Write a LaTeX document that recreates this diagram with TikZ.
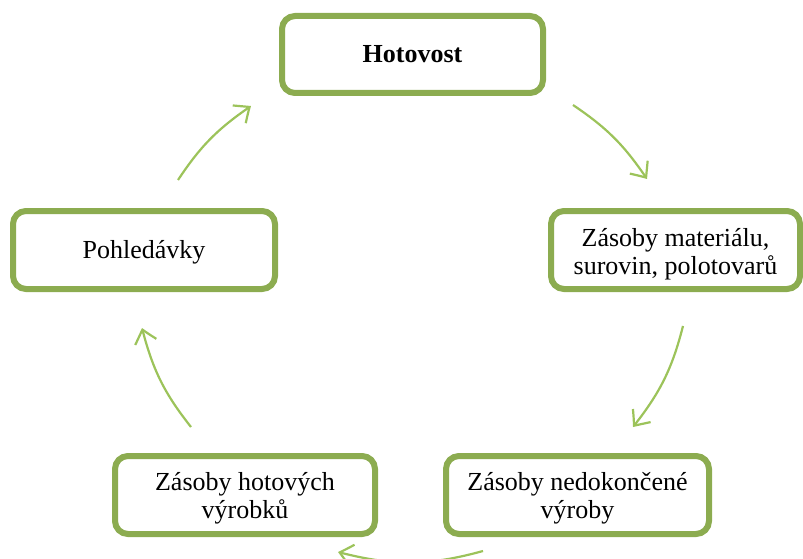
\documentclass[tikz,border=0pt]{standalone}
\usepackage{fontspec}
\setmainfont{Liberation Serif}
\usetikzlibrary{arrows.meta,bending}
\definecolor{boxgreen}{RGB}{140,172,80}
\definecolor{arrowgreen}{RGB}{156,195,90}
\tikzset{
  stage/.style={draw=boxgreen, line width=6pt, rounded corners=13pt, fill=white,
    inner sep=0pt, minimum height=78pt, align=center,
    font=\fontsize{26}{28}\selectfont},
  oneline/.style={text height=22pt, text depth=6pt},
  twoline/.style={text height=#1, text depth=6pt},
  flow/.style={draw=arrowgreen, line width=2.2pt,
    -{Straight Barb[length=13pt,width=22pt,bend]}}
}
\begin{document}
\begin{tikzpicture}[x=1pt,y=-1pt]
  \useasboundingbox (0,0) rectangle (803,559);

  % the five stages of the cycle
  \node[stage, oneline, minimum width=261pt, minimum height=77pt] (hot) at (412.5,54.5) {\textbf{Hotovost}};
  \node[stage, twoline=55pt, minimum width=249pt] (mat) at (675.5,250) {Zásoby materiálu,\\surovin, polotovarů};
  \node[stage, twoline=52pt, minimum width=263pt] (ned) at (577.5,495) {Zásoby nedokončené\\výroby};
  \node[stage, twoline=52pt, minimum width=260pt] (hv) at (245,495) {Zásoby hotových\\výrobků};
  \node[stage, oneline, minimum width=262pt] (poh) at (144,250) {Pohledávky};

  % arrow ends between the stages
  \coordinate (a1s) at (573,105); \coordinate (a1e) at (647,179);
  \coordinate (a2s) at (683,326); \coordinate (a2e) at (633,427);
  \coordinate (a3s) at (483,551); \coordinate (a3e) at (338,552);
  \coordinate (a4s) at (191,427); \coordinate (a4e) at (142,328);
  \coordinate (a5s) at (178,180); \coordinate (a5e) at (251,106);

  % clockwise arcs
  \draw[flow] (a1s) to[bend left=11] (a1e);
  \draw[flow] (a2s) to[bend left=12] (a2e);
  \draw[flow] (a3s) to[bend left=15] (a3e);
  \draw[flow] (a4s) to[bend left=12] (a4e);
  \draw[flow] (a5s) to[bend left=11] (a5e);
\end{tikzpicture}
\end{document}
